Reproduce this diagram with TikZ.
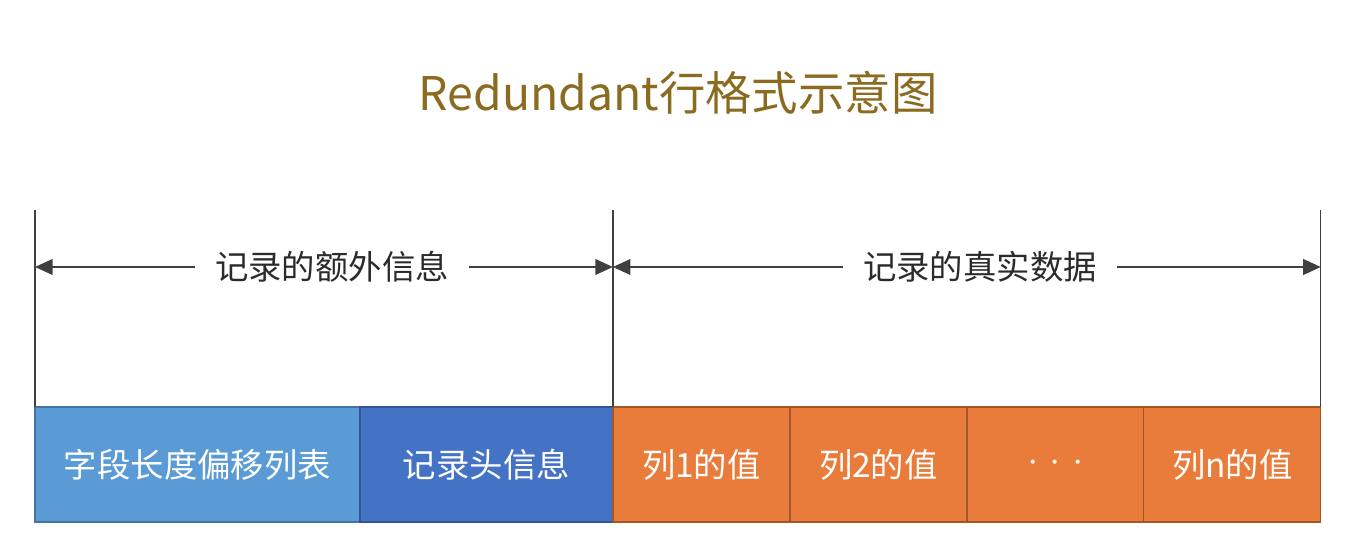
\documentclass[tikz,border=0pt]{standalone}
\usepackage{fontspec}
\setmainfont{Noto Sans CJK SC}
\usepackage{xcolor}
\usetikzlibrary{arrows.meta,positioning}
\definecolor{titlegold}{HTML}{8B6B1F}
\definecolor{lightblue}{HTML}{5B9BD5}
\definecolor{darkblue}{HTML}{4472C4}
\definecolor{orangecell}{HTML}{E97C3B}
\definecolor{inkgray}{HTML}{2B2B2B}

\begin{document}
\begin{tikzpicture}[x=0.02cm, y=0.02cm,
  every node/.style={font=\fontsize{19pt}{22pt}\selectfont},
  cellbox/.style={draw, line width=0.8pt, minimum height=2.3cm, inner sep=0pt, outer sep=0pt, text=white},
  bluecell/.style={cellbox, fill=lightblue, draw=lightblue!75!black},
  headcell/.style={cellbox, fill=darkblue, draw=darkblue!75!black},
  colcell/.style={cellbox, fill=orangecell, draw=orangecell!70!black, minimum width=3.54cm},
  guide/.style={draw=black!75, line width=0.8pt},
  span/.style={guide, -{Triangle[length=10pt,width=9pt]}},
  spanlabel/.style={text=inkgray, inner sep=11pt}]
\useasboundingbox (0,0) rectangle (1366,541);
% Title
\node[text=titlegold, font=\fontsize{26.4pt}{30pt}\selectfont] (title) at (678,448) {Redundant行格式示意图};

% Row of fields
\node[bluecell, minimum width=6.5cm, anchor=west] (offsets) at (35,76.5) {字段长度偏移列表};
\node[headcell, minimum width=5.06cm, right=0pt of offsets] (header) {记录头信息};
\node[colcell, right=0pt of header] (col1) {列1的值};
\node[colcell, right=0pt of col1] (col2) {列2的值};
\node[colcell, right=0pt of col2, font=\fontsize{11pt}{13pt}\selectfont] (dots) {·\,·\,·};
\node[colcell, right=0pt of dots] (coln) {列n的值};

% Guide lines
\draw[guide] (offsets.north west) -- ++(0,197) coordinate (top0);
\draw[guide] (header.north east) -- ++(0,197) coordinate (top1);
\draw[guide] (coln.north east) -- ++(0,197) coordinate (top2);

% Spans
\node[spanlabel] (extra) at (332,274) {记录的额外信息};
\node[spanlabel] (real) at (980,274) {记录的真实数据};
\draw[span] (extra.west) -- (extra.west -| top0);
\draw[span] (extra.east) -- (extra.east -| top1);
\draw[span] (real.west) -- (real.west -| top1);
\draw[span] (real.east) -- (real.east -| top2);
\end{tikzpicture}
\end{document}
